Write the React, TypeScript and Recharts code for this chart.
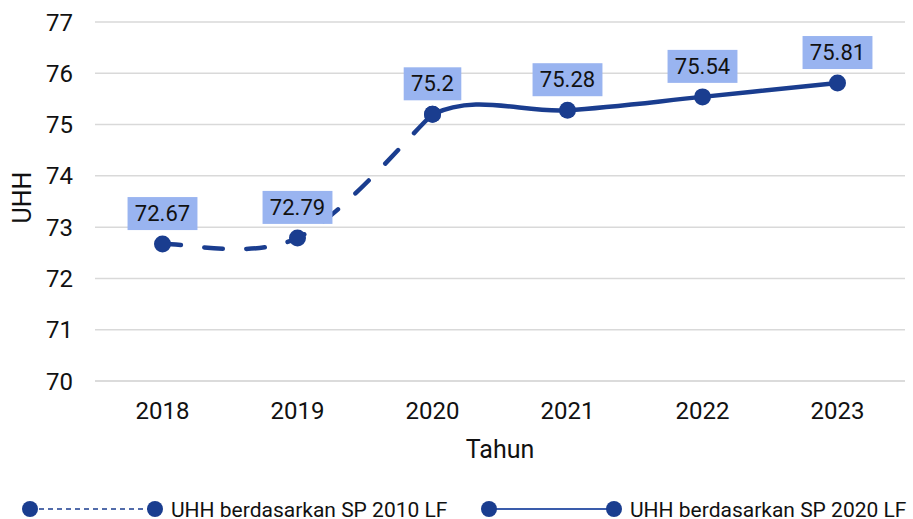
import {
  LineChart,
  Line,
  XAxis,
  YAxis,
  CartesianGrid,
  LabelList,
  Label,
  Legend,
} from "recharts";

const years = ["2018", "2019", "2020", "2021", "2022", "2023"];
const sp2010 = [72.67, 72.79, 75.2, null, null, null];
// 2019 is kept as a hidden lead-in so the smoothing at 2020 matches the original (segment not drawn)
const sp2020 = [null, 72.79, 75.2, 75.28, 75.54, 75.81];
const yTicks = [70, 71, 72, 73, 74, 75, 76, 77];

const data = years.map((year, i) => ({ year, sp2010: sp2010[i], sp2020: sp2020[i] }));

const BLUE = "#1a3d8f";
const BOX = "#99b4f0";
const FONT = "Roboto, sans-serif";

// Excel-like smoothed line: bezier with 1/6 tangents, first `hidden` segments skipped
function excelCurve(hidden: number) {
  return (context: any) => {
    let pts: number[][] = [];
    return {
      areaStart() {},
      areaEnd() {},
      lineStart() {
        pts = [];
      },
      point(x: number, y: number) {
        pts.push([+x, +y]);
      },
      lineEnd() {
        const n = pts.length;
        if (!n) return;
        const s = Math.min(hidden, n - 1);
        context.moveTo(pts[s][0], pts[s][1]);
        for (let i = s; i < n - 1; i++) {
          const p0 = pts[Math.max(i - 1, 0)];
          const p1 = pts[i];
          const p2 = pts[i + 1];
          const p3 = pts[Math.min(i + 2, n - 1)];
          context.bezierCurveTo(
            p1[0] + (p2[0] - p0[0]) / 6,
            p1[1] + (p2[1] - p0[1]) / 6,
            p2[0] - (p3[0] - p1[0]) / 6,
            p2[1] - (p3[1] - p1[1]) / 6,
            p2[0],
            p2[1]
          );
        }
      },
    };
  };
}

const textW = (t: string) =>
  t.split("").reduce((w, c) => w + (c === "." ? 5.7 : 12.3), 0);

const boxLabel = (show: (i: number) => boolean) => (props: any) => {
  const { x, y, value, index } = props;
  if (value == null || !show(index)) return null;
  const text = String(value);
  const w = textW(text) + 15;
  const h = 33;
  const bottom = y - 14;
  return (
    <g>
      <rect x={x - w / 2} y={bottom - h} width={w} height={h} fill={BOX} />
      <text
        x={x}
        y={bottom - h / 2}
        textAnchor="middle"
        dominantBaseline="central"
        fontSize={22}
        fontFamily={FONT}
        fill="#111"
      >
        {text}
      </text>
    </g>
  );
};

const dotFor = (show: (i: number) => boolean) => (p: any) => {
  if (p.cy == null || p.value == null || !show(p.index)) return <g key={p.index} />;
  return <circle key={p.index} cx={p.cx} cy={p.cy} r={8.5} fill={BLUE} />;
};

function LegendBox() {
  const y = 38;
  const item = (x0: number, dashed: boolean, label: string) => (
    <g>
      <line
        x1={x0}
        x2={x0 + 125}
        y1={y}
        y2={y}
        stroke={dashed ? BLUE : "#3a5cab"}
        strokeWidth={dashed ? 1.5 : 2}
        strokeDasharray={dashed ? "5 4" : undefined}
      />
      <circle cx={x0} cy={y} r={8} fill={BLUE} />
      <circle cx={x0 + 125} cy={y} r={8} fill={BLUE} />
      <text x={x0 + 141} y={y + 7.5} fontSize={21} fontFamily={FONT} fill="#111">
        {label}
      </text>
    </g>
  );
  return (
    <svg width={913} height={48} style={{ display: "block", overflow: "visible" }}>
      {item(30, true, "UHH berdasarkan SP 2010 LF")}
      {item(489, false, "UHH berdasarkan SP 2020 LF")}
    </svg>
  );
}

export default function App() {
  return (
    <div style={{ position: "absolute", left: 0, top: 0, background: "#fff" }}>
      <LineChart
        width={913}
        height={519}
        data={data}
        margin={{ top: 22, right: 8, bottom: 0, left: 0 }}
        style={{ fontFamily: FONT }}
      >
        <CartesianGrid vertical={false} stroke="#d9d9d9" strokeWidth={1.5} />
        <XAxis
          dataKey="year"
          height={90}
          padding={{ left: 67.5, right: 67.5 }}
          axisLine={{ stroke: "#d9d9d9", strokeWidth: 1.5 }}
          tickLine={false}
          tickSize={19}
          tick={{ fill: "#111", fontSize: 24, fontFamily: FONT }}
        >
          <Label
            content={(p: any) => (
              <text
                x={p.viewBox.x + p.viewBox.width / 2}
                y={p.viewBox.y + 68}
                textAnchor="middle"
                dominantBaseline="central"
                fontSize={25}
                fontFamily={FONT}
                fill="#111"
              >
                Tahun
              </text>
            )}
          />
        </XAxis>
        <YAxis
          width={95}
          domain={[70, 77]}
          ticks={yTicks}
          axisLine={false}
          tickLine={false}
          tickSize={20}
          tick={{ fill: "#111", fontSize: 24, fontFamily: FONT }}
        >
          <Label
            content={(p: any) => {
              const cx = 22;
              const cy = p.viewBox.y + p.viewBox.height / 2 - 4;
              return (
                <text
                  x={cx}
                  y={cy}
                  transform={`rotate(-90 ${cx} ${cy})`}
                  textAnchor="middle"
                  dominantBaseline="central"
                  fontSize={25}
                  fontFamily={FONT}
                  fill="#111"
                >
                  UHH
                </text>
              );
            }}
          />
        </YAxis>
        <Legend
          verticalAlign="bottom"
          align="left"
          height={48}
          wrapperStyle={{ left: 0, bottom: 0, width: 913, height: 48 }}
          content={() => <LegendBox />}
        />
        <Line
          dataKey="sp2010"
          type={excelCurve(0) as any}
          stroke={BLUE}
          strokeWidth={4.5}
          strokeDasharray="18.5 23.5"
          strokeLinecap="round"
          dot={dotFor(() => true)}
          activeDot={false}
          isAnimationActive={false}
        >
          <LabelList dataKey="sp2010" content={boxLabel((i) => i < 2)} />
        </Line>
        <Line
          dataKey="sp2020"
          type={excelCurve(1) as any}
          stroke={BLUE}
          strokeWidth={4.5}
          strokeLinecap="round"
          dot={dotFor((i) => i >= 2)}
          activeDot={false}
          isAnimationActive={false}
        >
          <LabelList dataKey="sp2020" content={boxLabel((i) => i >= 2)} />
        </Line>
      </LineChart>
    </div>
  );
}
